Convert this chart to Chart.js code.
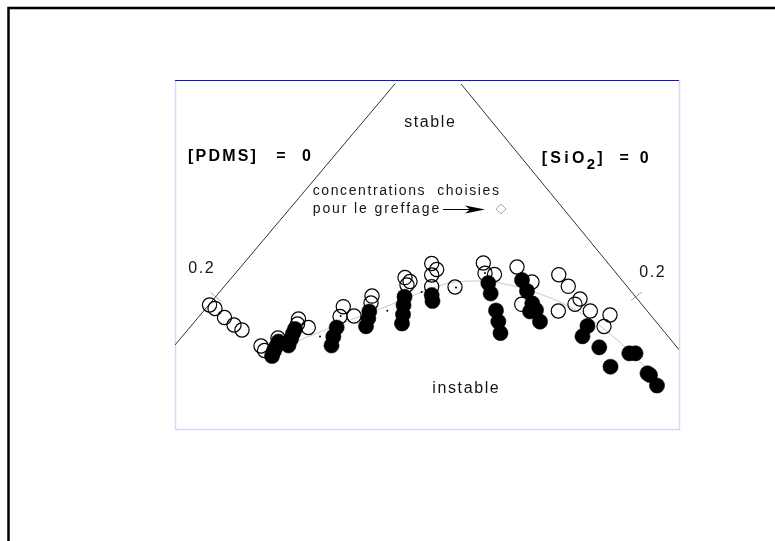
<!DOCTYPE html>
<html>
<head>
<meta charset="utf-8">
<script src="https://cdn.jsdelivr.net/npm/chart.js@4/dist/chart.umd.min.js"></script>
<style>
  html, body { margin: 0; padding: 0; background: #fff; }
  canvas { display: block; }
</style>
</head>
<body>
<canvas id="c" width="775" height="541"></canvas>
<script>
// Diagram coordinates: x 0..100 across the frame, y 0..70 bottom to top
const X_RANGE = [0, 100];
const Y_RANGE = [0, 70];

// Compositions giving a stable dispersion (open circles)
const stableX = [6.85, 7.94, 9.82, 11.71, 13.29,
  17.06, 17.76, 20.44, 24.50, 24.31, 26.45,
  33.39, 32.74, 35.52,
  39.09, 38.89,
  45.63, 46.63, 46.03,
  50.93, 51.92, 50.93, 50.93,
  55.56,
  61.17, 61.51, 63.39,
  67.86, 70.83, 68.79,
  76.15, 78.03, 80.36, 79.36, 82.40, 76.05, 86.31, 85.12];
const stableY = [24.87, 24.17, 22.36, 20.86, 19.86,
  16.65, 15.74, 18.25, 22.06, 21.06, 20.36,
  24.53, 22.56, 22.66,
  26.67, 25.27,
  30.38, 29.58, 28.88,
  33.19, 31.99, 30.89, 28.54,
  28.48,
  33.29, 31.23, 30.99,
  32.49, 29.48, 25.01,
  30.95, 28.62, 26.07, 25.03, 23.67, 23.67, 22.86, 20.56];

// Compositions giving an unstable dispersion (filled circles)
const unstableX = [19.25, 19.64, 20.14, 20.54, 22.52, 23.02, 23.41, 23.81,
  32.08, 31.41, 31.05,
  38.55, 38.35, 37.90,
  45.54, 45.34, 45.24, 45.04,
  50.93, 51.09,
  62.16, 62.64, 63.69, 64.15, 64.58,
  68.85, 69.84, 70.89, 71.63, 70.44, 72.42,
  81.84, 80.85, 84.18, 90.14, 91.37, 86.41, 93.75, 94.25, 95.63];
const unstableY = [14.64, 15.64, 16.65, 17.55, 16.75, 18.05, 19.15, 20.06,
  20.36, 18.51, 16.75,
  23.57, 22.20, 20.60,
  26.53, 24.87, 22.96, 21.16,
  26.87, 25.67,
  29.28, 27.18, 23.77, 21.56, 19.25,
  29.88, 27.68, 25.21, 23.87, 23.57, 21.52,
  20.66, 18.59, 16.39, 15.18, 15.18, 12.49, 11.17, 10.83, 8.72];

// Small marks along the boundary
const dotX = [28.77, 32.88, 42.12, 48.95, 55.75, 61.51];
const dotY = [18.55, 22.66, 23.73, 27.48, 28.38, 31.29];

// Stability boundary
const boundaryX = [22.82, 32.74, 42.66, 50.60, 55.56, 60.52, 66.47, 72.42, 78.37, 84.33, 89.29, 94.25];
const boundaryY = [17.05, 21.06, 24.87, 28.08, 29.48, 29.68, 28.88, 27.08, 24.47, 20.66, 16.45, 11.43];

// Sides of the ternary diagram: [PDMS] = 0 (left) and [SiO2] = 0 (right)
const sidePDMS = [[0, 16.85], [43.7, 69.3]];
const sideSiO2 = [[56.75, 69.2], [100, 15.9]];
// 0.2 graduations on each side
const tickPDMS = [[7.04, 27.42], [9.23, 25.53]];
const tickSiO2 = [[90.48, 25.77], [92.66, 27.48]];

// Composition chosen for grafting
const chosen = [[64.68, 44.12]];

// Text labels, placed in diagram coordinates
const labels = [
  { text: 'stable', x: 50.5, y: 61.37, align: 'center', size: 16, sp: 1.6 },
  { text: 'instable', x: 57.64, y: 8.02, align: 'center', size: 16, sp: 1.6 },
  { text: '0.2', x: 5.16, y: 32.09, align: 'center', size: 16, sp: 1.6 },
  { text: '0.2', x: 94.64, y: 31.29, align: 'center', size: 16, sp: 1.6 },
  { text: 'concentrations  choisies', x: 27.32, y: 47.69, align: 'left', size: 14, sp: 1.6 },
  { text: 'pour le greffage', x: 27.32, y: 44.06, align: 'left', size: 14, sp: 1.9 }
];
const arrowFrom = [53.17, 44.12];
const arrowTo = [61.51, 44.12];

const pts = (xs, ys) => xs.map((x, i) => ({ x, y: ys[i] }));
const pairs = arr => arr.map(p => ({ x: p[0], y: p[1] }));
const FONT = '"Liberation Sans", Arial, Helvetica, sans-serif';

function drawSpaced(ctx, text, x, y, spacing) {
  let cx = x;
  for (const ch of text) {
    ctx.fillText(ch, cx, y);
    cx += ctx.measureText(ch).width + spacing;
  }
  return cx;
}
function spacedWidth(ctx, text, spacing) {
  let w = 0;
  for (const ch of text) w += ctx.measureText(ch).width + spacing;
  return w - spacing;
}

const decor = {
  id: 'decor',
  beforeDraw(chart) {
    const ctx = chart.ctx;
    const a = chart.chartArea;
    ctx.save();
    ctx.fillStyle = '#fff';
    ctx.fillRect(0, 0, chart.width, chart.height);
    // outer figure frame
    ctx.strokeStyle = '#000';
    ctx.lineWidth = 2.5;
    ctx.strokeRect(8.5, 8, chart.width + 20, chart.height + 20);
    // plot frame
    ctx.strokeStyle = '#dcd8f2';
    ctx.lineWidth = 1.5;
    ctx.beginPath();
    ctx.moveTo(a.left + 0.5, a.top);
    ctx.lineTo(a.left + 0.5, a.bottom + 0.5);
    ctx.lineTo(a.right + 0.5, a.bottom + 0.5);
    ctx.lineTo(a.right + 0.5, a.top);
    ctx.stroke();
    ctx.strokeStyle = '#1010ee';
    ctx.lineWidth = 1;
    ctx.beginPath();
    ctx.moveTo(a.left, a.top + 0.5);
    ctx.lineTo(a.right, a.top + 0.5);
    ctx.stroke();
    ctx.restore();
  },
  afterDatasetsDraw(chart) {
    const ctx = chart.ctx;
    const xs = chart.scales.x, ys = chart.scales.y;
    const px = v => xs.getPixelForValue(v);
    const py = v => ys.getPixelForValue(v);
    ctx.save();
    ctx.fillStyle = '#151515';
    ctx.textBaseline = 'middle';
    for (const l of labels) {
      ctx.font = l.size + 'px ' + FONT;
      let x = px(l.x);
      if (l.align === 'center') x -= spacedWidth(ctx, l.text, l.sp) / 2;
      drawSpaced(ctx, l.text, x, py(l.y), l.sp);
    }
    // side labels
    ctx.fillStyle = '#000';
    ctx.font = 'bold 16px ' + FONT;
    const yL = py(54.55);
    drawSpaced(ctx, '[PDMS]', px(2.58), yL, 2.2);
    drawSpaced(ctx, '=', px(20.1), yL, 0);
    drawSpaced(ctx, '0', px(25.2), yL, 0);
    const yR = py(54.15);
    let xR = drawSpaced(ctx, '[SiO', px(72.76), yR, 3.3);
    ctx.font = 'bold 15px ' + FONT;
    drawSpaced(ctx, '2', xR - 1, yR + 6, 0);
    xR += ctx.measureText('2').width + 1;
    ctx.font = 'bold 16px ' + FONT;
    drawSpaced(ctx, ']', xR, yR, 0);
    drawSpaced(ctx, '=', px(88.2), yR, 0);
    drawSpaced(ctx, '0', px(92.2), yR, 0);
    // arrow towards the chosen composition
    const x0 = px(arrowFrom[0]), x1 = px(arrowTo[0]), ay = py(arrowFrom[1]);
    ctx.strokeStyle = '#000';
    ctx.lineWidth = 1;
    ctx.beginPath();
    ctx.moveTo(x0, ay + 0.5);
    ctx.lineTo(x1 - 14, ay + 0.5);
    ctx.stroke();
    ctx.fillStyle = '#000';
    ctx.beginPath();
    ctx.moveTo(x1, ay + 0.5);
    ctx.lineTo(x1 - 20, ay - 3.5);
    ctx.lineTo(x1 - 15, ay + 0.5);
    ctx.lineTo(x1 - 20, ay + 4.5);
    ctx.closePath();
    ctx.fill();
    ctx.restore();
  }
};

new Chart(document.getElementById('c'), {
  type: 'scatter',
  data: {
    datasets: [
      { label: 'dots', data: pts(dotX, dotY), pointRadius: 1, pointBackgroundColor: '#000', pointBorderWidth: 0, showLine: false },
      { label: 'instable', data: pts(unstableX, unstableY), pointRadius: 7.6, pointBackgroundColor: '#000', pointBorderColor: '#000', pointBorderWidth: 0.5, showLine: false },
      { label: 'stable', data: pts(stableX, stableY), pointRadius: 7.1, pointBackgroundColor: 'rgba(0,0,0,0)', pointBorderColor: '#000', pointBorderWidth: 1.2, showLine: false },
      { label: 'greffage', data: pairs(chosen), pointStyle: 'rectRot', pointRadius: 5, pointBackgroundColor: '#fff', pointBorderColor: '#aaa', pointBorderWidth: 1, showLine: false },
      { label: 'boundary', data: pts(boundaryX, boundaryY), showLine: true, borderColor: '#c8c8c8', borderWidth: 1, pointRadius: 0, tension: 0.4, cubicInterpolationMode: 'monotone' },
      { label: 'PDMS0', data: pairs(sidePDMS), showLine: true, borderColor: '#333', borderWidth: 1, pointRadius: 0 },
      { label: 'SiO20', data: pairs(sideSiO2), showLine: true, borderColor: '#333', borderWidth: 1, pointRadius: 0 },
      { label: 'tick1', data: pairs(tickPDMS), showLine: true, borderColor: '#aaa', borderWidth: 1, pointRadius: 0 },
      { label: 'tick2', data: pairs(tickSiO2), showLine: true, borderColor: '#aaa', borderWidth: 1, pointRadius: 0 }
    ]
  },
  options: {
    responsive: false,
    animation: false,
    devicePixelRatio: 1,
    layout: { padding: { left: 175, right: 96, top: 80, bottom: 112 } },
    plugins: { legend: { display: false }, tooltip: { enabled: false } },
    scales: {
      x: { type: 'linear', min: X_RANGE[0], max: X_RANGE[1], display: false },
      y: { type: 'linear', min: Y_RANGE[0], max: Y_RANGE[1], display: false }
    }
  },
  plugins: [decor]
});
</script>
</body>
</html>
